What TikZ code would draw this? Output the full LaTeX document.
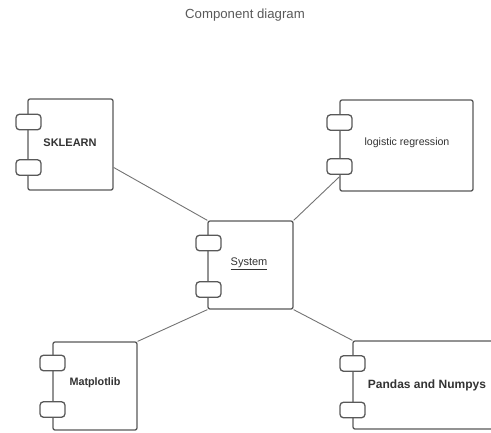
\documentclass[tikz,border=0pt]{standalone}
\usepackage{fontspec}
\setmainfont{Liberation Sans}
\begin{document}
\begin{tikzpicture}[x=1pt,y=-1pt,
  comp/.style={draw=black!65, line width=1.3pt, fill=white, rounded corners=2pt, inner sep=0pt, minimum width=85pt, minimum height=88pt},
  port/.style={draw=black!65, line width=1.3pt, fill=white, rounded corners=3.5pt, inner sep=0pt, minimum width=25pt, minimum height=15.5pt},
  conn/.style={draw=black!55, line width=0.9pt},
  lbl/.style={text=black!80, inner sep=0pt}]
\useasboundingbox (0,0) rectangle (491,432);
\clip (0,0) rectangle (491,432);
\node[lbl, text=black!65, font=\fontsize{13.2}{15}\selectfont] (title) at (245,15) {Component diagram};

% components
\node[comp, minimum width=85pt, minimum height=91pt] (sk) at (70.5,144.5) {};
\node[comp, minimum width=133pt, minimum height=91pt] (lr) at (406.5,145.5) {};
\node[comp, minimum width=85pt, minimum height=88pt] (sys) at (250.5,265) {};
\node[comp, minimum width=84pt, minimum height=88pt] (mp) at (95,386) {};
\node[comp, minimum width=147pt, minimum height=88pt] (pd) at (426.5,385) {};

% connectors
\draw[conn] (sk.-28) -- (sys.north west);
\draw[conn] (lr.205) -- (sys.north east);
\draw[conn] (sys.south west) -- (mp.north east);
\draw[conn] (sys.south east) -- (pd.north west);

% ports
\node[port] (skp1) at (28.5,122) {};
\node[port] (skp2) at (28.5,167.5) {};
\node[port] (lrp1) at (339.5,122.5) {};
\node[port] (lrp2) at (339.5,166.5) {};
\node[port] (sysp1) at (208.5,243) {};
\node[port] (sysp2) at (208.5,289.5) {};
\node[port] (mpp1) at (52.5,363) {};
\node[port] (mpp2) at (52.5,409.5) {};
\node[port] (pdp1) at (352.5,363.5) {};
\node[port] (pdp2) at (352.5,410) {};

% labels
\node[lbl, font=\bfseries\fontsize{11}{13}\selectfont] (skl) at (70,143) {SKLEARN};
\node[lbl, font=\fontsize{10.6}{13}\selectfont] (lrl) at (407,143) {logistic regression};
\node[lbl, font=\fontsize{11}{13}\selectfont] (sysl) at (249,264) {\underline{System}};
\node[lbl, font=\bfseries\fontsize{10.8}{13}\selectfont] (mpl) at (95,383) {Matplotlib};
\node[lbl, font=\bfseries\fontsize{12}{14}\selectfont] (pdl) at (427,385) {Pandas and Numpys};
\end{tikzpicture}
\end{document}
